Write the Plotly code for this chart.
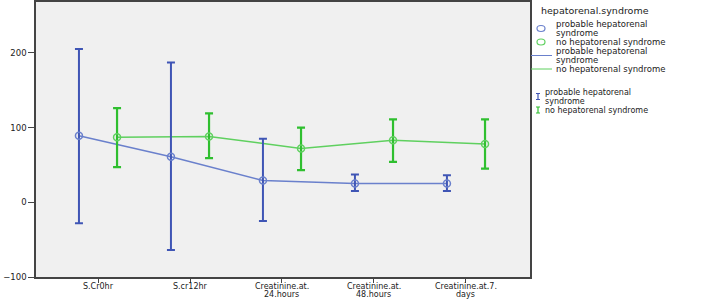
import plotly.graph_objects as go

categories = ["S.Cr0hr", "S.cr12hr", "Creatinine.at.<br>24.hours", "Creatinine.at.<br>48.hours", "Creatinine.at.7.<br>days"]
hrs_mean = [89, 61, 29, 25, 25]
hrs_upper = [205, 187, 85, 37, 36]
hrs_lower = [-28, -64, -25, 15, 15]
no_mean = [87, 88, 72, 83, 78]
no_upper = [126, 119, 100, 111, 111]
no_lower = [47, 59, 43, 54, 45]
y_ticks = [-100, 0, 100, 200]

BLUE_LINE = "#6a80cc"
BLUE_ERR = "#3f55b5"
GREEN_LINE = "#5fd05f"
GREEN_ERR = "#2fbf2f"
FONT = "DejaVu Sans"

idx = list(range(len(categories)))
off = 0.207
xb = [i - off for i in idx]
xg = [i + off for i in idx]

fig = go.Figure()
fig.add_trace(go.Scatter(x=xb, y=hrs_mean, mode="lines", line=dict(color=BLUE_LINE, width=1.5), showlegend=False))
fig.add_trace(go.Scatter(x=xg, y=no_mean, mode="lines", line=dict(color=GREEN_LINE, width=1.5), showlegend=False))
fig.add_trace(go.Scatter(
    x=xb, y=hrs_mean, mode="markers",
    marker=dict(symbol="circle-open", size=7, color=BLUE_LINE, line=dict(width=1.5)),
    error_y=dict(type="data", symmetric=False,
                 array=[u - m for u, m in zip(hrs_upper, hrs_mean)],
                 arrayminus=[m - l for m, l in zip(hrs_mean, hrs_lower)],
                 color=BLUE_ERR, thickness=2, width=4),
    showlegend=False))
fig.add_trace(go.Scatter(
    x=xg, y=no_mean, mode="markers",
    marker=dict(symbol="circle-open", size=7, color=GREEN_LINE, line=dict(width=1.5)),
    error_y=dict(type="data", symmetric=False,
                 array=[u - m for u, m in zip(no_upper, no_mean)],
                 arrayminus=[m - l for m, l in zip(no_mean, no_lower)],
                 color=GREEN_ERR, thickness=2.2, width=4),
    showlegend=False))

W, H = 709, 300
ml, mr, mt, mb = 36, 179, 2, 23

def px(x):
    return (x - ml) / (W - ml - mr)

def py(y):
    return 1 - (y - mt) / (H - mt - mb)

shapes = []
annotations = []

def text(x, y, s, size=8.5, color="#222"):
    annotations.append(dict(xref="paper", yref="paper", x=px(x), y=py(y), text=s,
                            showarrow=False, xanchor="left", yanchor="middle",
                            font=dict(family=FONT, size=size, color=color)))

text(539, 11, "hepatorenal.syndrome", size=9.5)
# circle symbols
shapes.append(dict(type="circle", xref="paper", yref="paper", x0=px(537), x1=px(545), y0=py(25.5), y1=py(31.5),
                   line=dict(color=BLUE_LINE, width=1.2)))
shapes.append(dict(type="circle", xref="paper", yref="paper", x0=px(537), x1=px(545), y0=py(39), y1=py(45),
                   line=dict(color=GREEN_LINE, width=1.2)))
text(554, 24, "probable hepatorenal")
text(554, 33, "syndrome")
text(554, 42, "no hepatorenal syndrome")
# line symbols
shapes.append(dict(type="line", xref="paper", yref="paper", x0=px(531), x1=px(552), y0=py(55.5), y1=py(55.5),
                   line=dict(color=BLUE_LINE, width=1)))
shapes.append(dict(type="line", xref="paper", yref="paper", x0=px(531), x1=px(552), y0=py(69), y1=py(69),
                   line=dict(color=GREEN_LINE, width=1)))
text(554, 51, "probable hepatorenal")
text(554, 60, "syndrome")
text(554, 69, "no hepatorenal syndrome")
# error bar symbols
for (yc, col) in [(96.5, BLUE_ERR), (110, GREEN_ERR)]:
    shapes.append(dict(type="line", xref="paper", yref="paper", x0=px(538), x1=px(538), y0=py(yc - 3), y1=py(yc + 3),
                       line=dict(color=col, width=1.2)))
    for yy in (yc - 3, yc + 3):
        shapes.append(dict(type="line", xref="paper", yref="paper", x0=px(536), x1=px(540), y0=py(yy), y1=py(yy),
                           line=dict(color=col, width=1)))
text(543, 92, "probable hepatorenal", size=8)
text(543, 101, "syndrome", size=8)
text(543, 110, "no hepatorenal syndrome", size=8)

# x tick labels (tight two-line spacing as in the reference)
for i, lab in enumerate(categories):
    lines = lab.split("<br>")
    for j, ln in enumerate(lines):
        annotations.append(dict(xref="x", yref="paper", x=i, y=py(286.5 + 8 * j), text=ln,
                                showarrow=False, xanchor="center", yanchor="middle",
                                font=dict(family=FONT, size=8, color="#222")))

fig.update_layout(
    width=W, height=H,
    margin=dict(l=ml, r=mr, t=mt, b=mb, autoexpand=False),
    paper_bgcolor="white", plot_bgcolor="#f0f0f0",
    shapes=shapes, annotations=annotations,
    showlegend=False,
    font=dict(family=FONT, size=8.5, color="#222"),
)
fig.update_xaxes(range=[-0.674, 4.696], tickmode="array", tickvals=idx, ticktext=[""] * len(idx),
                 showgrid=False, zeroline=False, showline=True, linecolor="#444", linewidth=1.5, mirror=True,
                 ticks="outside", ticklen=4, tickcolor="#444")
fig.update_yaxes(range=[-100, 268], tickvals=y_ticks, showgrid=False, zeroline=False,
                 showline=True, linecolor="#444", linewidth=1.5, mirror=True,
                 ticks="outside", ticklen=6, tickcolor="#444", tickfont=dict(size=8.5))

fig.write_html("out.html", config={"displayModeBar": False},
               post_script="document.body.style.margin='0';document.body.style.padding='0';")
